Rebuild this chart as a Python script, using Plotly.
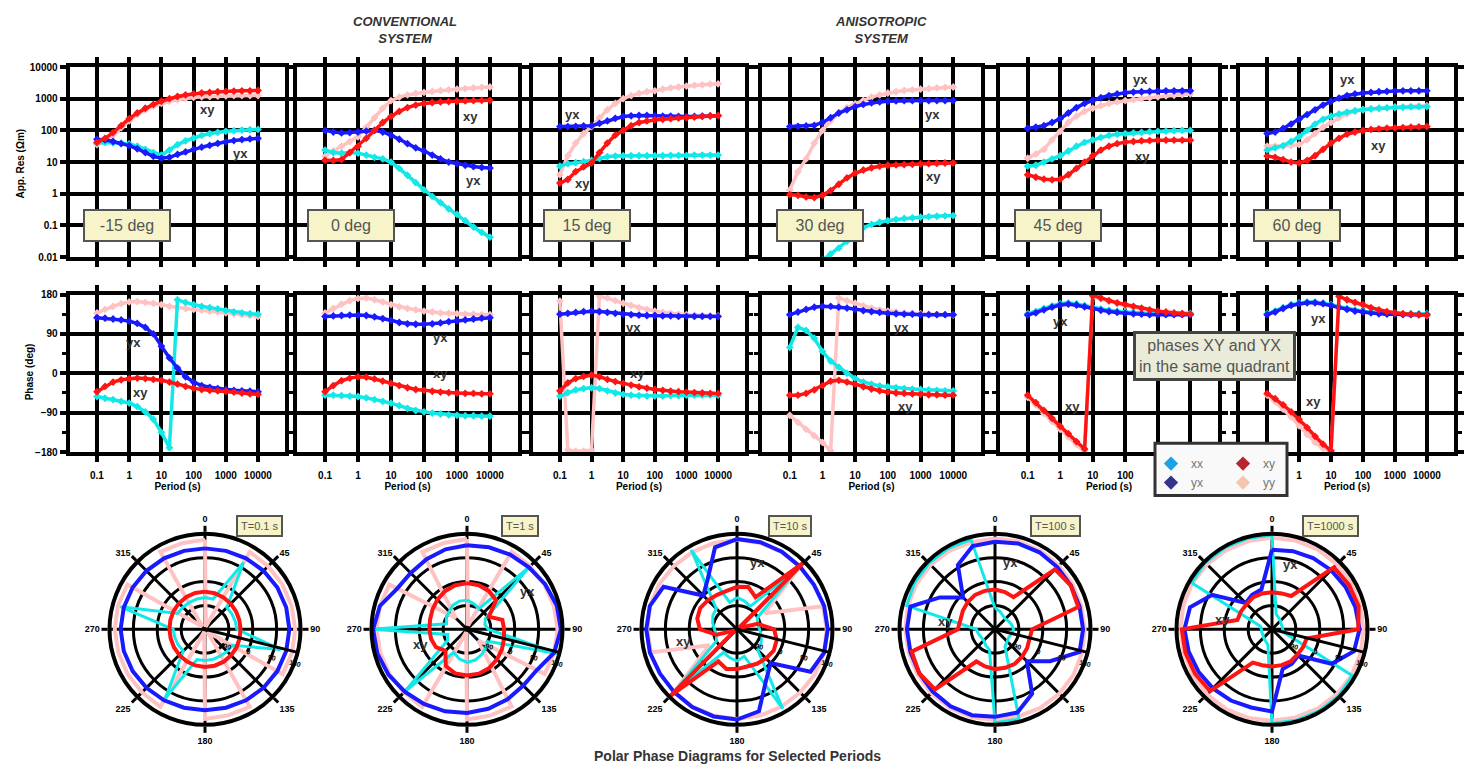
import plotly.graph_objects as go

W, H = 1469, 783

# ---------------- data ----------------
periods = [0.1, 0.178, 0.316, 0.562, 1, 1.78, 3.16, 5.62, 10, 17.8, 31.6, 56.2,
           100, 178, 316, 562, 1000, 1780, 3160, 5620, 10000]
period_ticks = [0.1, 1, 10, 100, 1000, 10000]
period_ticktext = ["0.1", "1", "10", "100", "1000", "10000"]
rot_labels = ["-15 deg", "0 deg", "15 deg", "30 deg", "45 deg", "60 deg"]
res_ticks = [-2, -1, 0, 1, 2, 3, 4]
res_ticktext = ["0.01", "0.1", "1", "10", "100", "1000", "10000"]
phase_ticks = [-180, -90, 0, 90, 180]

# log10 apparent resistivity (ohm-m)
logres_m15_xx = [1.60,1.62,1.61,1.60,1.57,1.50,1.40,1.30,1.22,1.38,1.55,1.67,1.76,1.84,1.90,1.94,1.97,1.99,2.01,2.02,2.03]
logres_m15_xy = [1.62,1.75,1.93,2.15,2.37,2.55,2.70,2.82,2.92,3.00,3.07,3.12,3.16,3.18,3.20,3.22,3.23,3.24,3.25,3.25,3.26]
logres_m15_yx = [1.72,1.70,1.65,1.58,1.52,1.42,1.30,1.18,1.12,1.15,1.24,1.32,1.40,1.47,1.53,1.59,1.64,1.68,1.71,1.73,1.75]
logres_m15_yy = [1.55,1.65,1.85,2.08,2.30,2.50,2.65,2.76,2.85,2.92,2.97,3.01,3.04,3.06,3.07,3.08,3.09,3.10,3.10,3.10,3.10]

logres_0_xx = [1.38,1.30,1.28,1.30,1.28,1.22,1.15,1.10,1.00,0.80,0.58,0.35,0.12,-0.08,-0.28,-0.48,-0.65,-0.85,-1.05,-1.22,-1.37]
logres_0_xy = [1.06,1.05,1.08,1.30,1.50,1.75,2.00,2.25,2.44,2.60,2.72,2.80,2.85,2.88,2.90,2.91,2.92,2.93,2.94,2.95,2.95]
logres_0_yx = [2.00,1.95,1.92,1.93,1.95,1.98,2.00,1.95,1.85,1.72,1.58,1.45,1.35,1.22,1.10,1.00,0.95,0.90,0.86,0.83,0.81]
logres_0_yy = [1.19,1.35,1.50,1.65,1.80,2.10,2.40,2.70,2.94,3.05,3.12,3.17,3.20,3.23,3.26,3.28,3.30,3.32,3.34,3.36,3.37]

logres_15_xx = [0.87,0.95,0.98,1.01,1.05,1.12,1.17,1.19,1.20,1.20,1.20,1.20,1.20,1.20,1.21,1.21,1.21,1.22,1.22,1.22,1.22]
logres_15_xy = [0.34,0.45,0.70,0.85,0.97,1.30,1.60,1.85,2.00,2.15,2.25,2.30,2.33,2.35,2.37,2.39,2.40,2.42,2.44,2.46,2.47]
logres_15_yx = [2.12,2.12,2.13,2.14,2.15,2.22,2.30,2.38,2.44,2.46,2.47,2.47,2.46,2.45,2.45,2.44,2.44,2.44,2.45,2.46,2.46]
logres_15_yy = [0.60,1.20,1.60,1.90,2.12,2.40,2.65,2.85,3.00,3.10,3.17,3.22,3.25,3.30,3.34,3.37,3.40,3.42,3.44,3.46,3.47]

logres_30_xx = [-3.6,-3.2,-2.8,-2.4,-2.1,-1.9,-1.72,-1.5,-1.25,-1.07,-0.97,-0.90,-0.85,-0.81,-0.78,-0.76,-0.74,-0.72,-0.71,-0.70,-0.69]
logres_30_xy = [-0.03,-0.05,-0.10,-0.12,-0.05,0.10,0.30,0.50,0.65,0.75,0.82,0.87,0.90,0.91,0.92,0.93,0.94,0.95,0.96,0.97,0.97]
logres_30_yx = [2.12,2.13,2.14,2.16,2.25,2.40,2.55,2.65,2.75,2.82,2.87,2.90,2.92,2.93,2.94,2.94,2.94,2.94,2.94,2.94,2.94]
logres_30_yy = [0.12,0.70,1.10,1.60,2.00,2.30,2.55,2.72,2.84,2.95,3.05,3.12,3.18,3.22,3.26,3.28,3.30,3.32,3.34,3.36,3.37]

logres_45_xx = [0.87,0.90,1.00,1.10,1.20,1.35,1.50,1.62,1.70,1.78,1.84,1.88,1.90,1.92,1.94,1.96,1.97,1.98,1.99,2.00,2.00]
logres_45_xy = [0.60,0.52,0.46,0.44,0.46,0.60,0.80,1.00,1.20,1.38,1.50,1.58,1.63,1.65,1.67,1.68,1.69,1.69,1.69,1.69,1.69]
logres_45_yx = [2.06,2.10,2.15,2.25,2.37,2.55,2.72,2.85,2.95,3.03,3.10,3.15,3.19,3.21,3.22,3.23,3.24,3.25,3.25,3.25,3.25]
logres_45_yy = [1.12,1.25,1.40,1.70,1.97,2.25,2.45,2.60,2.70,2.78,2.85,2.90,2.94,2.97,3.00,3.03,3.06,3.09,3.11,3.13,3.15]

logres_60_xx = [1.38,1.45,1.52,1.65,1.80,2.00,2.20,2.35,2.45,2.52,2.58,2.62,2.66,2.68,2.70,2.71,2.72,2.73,2.74,2.75,2.75]
logres_60_xy = [1.19,1.15,1.08,1.00,0.97,1.05,1.20,1.40,1.60,1.75,1.88,1.95,2.00,2.03,2.05,2.07,2.08,2.09,2.10,2.11,2.12]
logres_60_yx = [1.90,1.95,2.06,2.20,2.35,2.50,2.65,2.80,2.92,3.02,3.10,3.15,3.18,3.20,3.22,3.23,3.24,3.25,3.25,3.25,3.25]
logres_60_yy = [1.50,1.50,1.50,1.52,1.55,1.70,1.90,2.10,2.25,2.40,2.52,2.60,2.65,2.68,2.70,2.72,2.74,2.75,2.76,2.77,2.78]

# phases (deg)
phase_m15_xx = [-53,-57,-60,-64,-68,-76,-88,-105,-135,-170,168,162,157,153,150,147,143,140,138,136,135]
phase_m15_xy = [-42,-30,-20,-15,-12,-11,-12,-14,-16,-20,-25,-30,-34,-37,-39,-40,-41,-43,-45,-47,-48]
phase_m15_yx = [127,126,124,122,119,114,105,90,62,35,12,-8,-20,-28,-32,-35,-37,-39,-40,-41,-42]
phase_m15_yy = [138,146,153,159,163,164,162,160,157,153,150,148,146,144,142,140,138,136,134,132,130]

phase_0_xx = [-50,-50,-51,-52,-53,-56,-60,-64,-68,-74,-80,-85,-88,-91,-93,-95,-96,-97,-97,-98,-98]
phase_0_xy = [-42,-28,-17,-11,-8,-9,-13,-18,-23,-28,-33,-37,-39,-41,-43,-44,-45,-46,-46,-47,-47]
phase_0_yx = [130,131,132,133,133,132,129,125,121,116,113,112,112,113,115,118,120,122,124,126,127]
phase_0_yy = [138,148,158,166,171,172,168,163,157,152,148,145,142,140,138,137,136,135,135,134,134]

phase_15_xx = [-52,-44,-38,-35,-33,-35,-40,-45,-48,-50,-51,-52,-52,-52,-51,-51,-50,-50,-50,-50,-50]
phase_15_xy = [-40,-22,-12,-7,-4,-8,-14,-19,-23,-27,-31,-34,-37,-39,-41,-42,-43,-44,-45,-46,-46]
phase_15_yx = [135,137,139,141,142,141,139,137,135,134,133,132,132,131,131,130,130,130,130,130,130]
phase_15_yy = [165,-175,-178,-178,-176,176,172,166,160,155,150,146,142,139,137,135,134,133,132,131,131]

phase_30_xx = [59,105,98,80,50,28,14,0,-12,-20,-25,-29,-31,-33,-35,-36,-37,-38,-39,-40,-40]
phase_30_xy = [-50,-50,-46,-38,-28,-18,-16,-20,-25,-31,-36,-40,-43,-45,-46,-47,-48,-49,-49,-50,-50]
phase_30_yx = [134,140,146,151,153,153,151,149,146,143,141,139,137,136,135,135,134,134,134,134,134]
phase_30_yy = [-96,-112,-128,-143,-158,-177,172,166,160,154,149,145,142,140,138,137,136,135,134,134,133]

phase_45_xx = [136,141,148,154,159,161,159,155,151,147,144,142,140,139,138,137,137,137,137,137,137]
phase_45_xy = [-50,-67,-85,-103,-121,-138,-156,-173,178,172,166,161,157,153,149,145,142,140,138,136,135]
phase_45_yx = [133,138,145,151,156,158,156,152,148,144,141,139,137,136,135,134,134,134,134,134,134]
phase_45_yy = [-55,-72,-92,-110,-128,-146,-163,-178,175,170,164,159,154,150,146,143,140,138,137,136,135]

phase_60_xx = [136,142,150,157,161,163,163,161,157,152,148,144,142,140,138,137,137,136,136,136,136]
phase_60_xy = [-46,-58,-72,-88,-105,-124,-144,-162,-177,176,168,162,157,150,145,141,138,136,135,134,133]
phase_60_yx = [134,140,148,155,159,161,161,159,155,150,146,142,140,138,136,135,135,134,134,134,134]
phase_60_yy = [-50,-65,-82,-100,-120,-140,-158,-172,-179,175,168,160,154,149,144,140,137,135,134,133,132]

# polar phase diagrams: phase vs rotation angle
rot_angles = [0,15,30,45,60,75,90,105,120,135,150,165,180,195,210,225,240,255,270,285,300,315,330,345]
polar_periods = ["T=0.1 s", "T=1 s", "T=10 s", "T=100 s", "T=1000 s"]
angle_ticks = [0, 45, 90, 135, 180, 225, 270, 315]

pol_T0p1_xx = [-60,-62,110,-64,-63,-62,-60,115,-60,-62,-64,-63,-62,-62,120,-64,-63,-62,-60,150,-60,-62,-63,-62]
pol_T0p1_xy = [-38,-39,-41,-43,-45,-46,-46,-45,-43,-41,-39,-38,-38,-39,-41,-43,-45,-46,-46,-45,-43,-41,-39,-38]
pol_T0p1_yx = [125,126,129,132,135,137,138,137,135,132,129,126,125,126,129,132,135,137,138,137,135,132,129,126]
pol_T0p1_yy = [158,-170,157,156,157,158,160,160,158,-165,157,156,158,-170,157,156,157,158,160,160,158,-165,157,156]

pol_T1_xx = [-70,-80,-90,150,-100,-110,-100,175,-90,-80,-70,-60,-55,-65,-80,150,-95,-105,178,-100,-90,-85,-75,-70]
pol_T1_xy = [-6,-8,-14,-25,-85,-42,-40,-36,-28,-20,-12,-7,-6,-8,-20,-65,-45,-40,-38,-36,-30,-22,-14,-8]
pol_T1_yx = [137,140,145,150,160,170,174,160,125,120,125,130,135,140,145,152,162,170,174,160,125,120,125,132]
pol_T1_yy = [160,-165,158,156,157,159,161,160,158,-120,156,157,160,-168,158,156,157,159,161,160,158,-120,156,157]

pol_T10_xx = [-60,-70,-80,150,-90,-100,-95,-85,-75,-70,165,-75,-60,-70,-80,150,-90,-100,-95,-85,-75,-70,165,-75]
pol_T10_xy = [-20,-15,-40,175,-170,-100,-40,-25,-20,-25,-30,-35,-30,-25,-40,175,-170,-100,-40,-25,-20,-25,-30,-30]
pol_T10_yx = [160,160,158,155,155,160,162,160,140,0,40,140,160,160,158,155,155,160,162,160,140,0,40,140]
pol_T10_yy = [158,157,156,155,-60,156,158,160,159,157,156,157,158,157,156,155,-60,156,158,160,159,157,156,157]

pol_T100_xx = [-100,-110,-120,-125,-120,-115,-110,-115,-120,-115,-105,170,172,-100,-110,-120,-120,-115,-110,165,170,172,172,170]
pol_T100_xy = [-30,-35,-40,140,150,145,-40,-45,-40,-35,-30,-30,-30,-35,-40,140,150,145,-40,-45,-40,-35,-30,-30]
pol_T100_yx = [150,155,155,152,150,150,152,150,60,-10,100,145,150,155,155,152,150,150,152,150,60,-10,100,145]
pol_T100_yy = [162,163,162,160,158,157,158,160,162,163,162,160,162,163,162,160,158,157,158,160,162,163,162,160]

pol_T1000_xx = [175,-120,-130,-135,-140,-140,-140,-135,170,175,175,175,175,-120,-130,-135,-140,-140,-140,-135,170,175,175,175]
pol_T1000_xy = [-40,-40,-35,150,155,158,145,-45,-45,-45,-40,-40,-40,-40,-35,150,155,158,160,-45,-45,-45,-40,-40]
pol_T1000_yx = [120,125,130,135,140,145,150,140,80,-40,-30,-25,130,125,130,135,140,145,150,140,80,-40,-30,-25]
pol_T1000_yy = [165,166,167,166,165,164,165,166,167,166,165,164,165,166,167,166,165,164,165,166,167,166,165,164]

# ---------------- styling ----------------
COL = {"xx": "#12e8e8", "xy": "#ff1414", "yx": "#1a1aff", "yy": "#ffc2c2"}
LEG_COL = {"xx": "#1da1e6", "yx": "#34348a", "xy": "#b5272c", "yy": "#f3c6b2"}
FONT = "Liberation Sans, Arial, sans-serif"

res_sets = [
    (logres_m15_xx, logres_m15_xy, logres_m15_yx, logres_m15_yy),
    (logres_0_xx, logres_0_xy, logres_0_yx, logres_0_yy),
    (logres_15_xx, logres_15_xy, logres_15_yx, logres_15_yy),
    (logres_30_xx, logres_30_xy, logres_30_yx, logres_30_yy),
    (logres_45_xx, logres_45_xy, logres_45_yx, logres_45_yy),
    (logres_60_xx, logres_60_xy, logres_60_yx, logres_60_yy),
]
phase_sets = [
    (phase_m15_xx, phase_m15_xy, phase_m15_yx, phase_m15_yy),
    (phase_0_xx, phase_0_xy, phase_0_yx, phase_0_yy),
    (phase_15_xx, phase_15_xy, phase_15_yx, phase_15_yy),
    (phase_30_xx, phase_30_xy, phase_30_yx, phase_30_yy),
    (phase_45_xx, phase_45_xy, phase_45_yx, phase_45_yy),
    (phase_60_xx, phase_60_xy, phase_60_yx, phase_60_yy),
]
polar_sets = [
    (pol_T0p1_xx, pol_T0p1_xy, pol_T0p1_yx, pol_T0p1_yy),
    (pol_T1_xx, pol_T1_xy, pol_T1_yx, pol_T1_yy),
    (pol_T10_xx, pol_T10_xy, pol_T10_yx, pol_T10_yy),
    (pol_T100_xx, pol_T100_xy, pol_T100_yx, pol_T100_yy),
    (pol_T1000_xx, pol_T1000_xy, pol_T1000_yx, pol_T1000_yy),
]

col_left = [69.6, 297, 533, 762, 1000, 1240]
col_right = [285.4, 518, 745, 981, 1218, 1454]
row1_top, row1_bot = 62, 255
row2_top, row2_bot = 293, 453
polar_cx = [205, 467, 737, 995, 1272]
polar_cy, polar_R = 633, 97

# x tick labels hidden behind the legend box
xtick_text_row2 = [
    period_ticktext, period_ticktext, period_ticktext, period_ticktext,
    ["0.1", "1", "10", "100", "", ""],
    ["", "1", "10", "100", "1000", "10000"],
]

def px(x):
    return x / W

def py(y):
    return 1 - y / H

fig = go.Figure()
layout = dict(width=W, height=H, margin=dict(l=0, r=0, t=0, b=0),
              paper_bgcolor="white", plot_bgcolor="white",
              font=dict(family=FONT, color="black"), showlegend=True)

axis_common = dict(showgrid=True, gridcolor="black", gridwidth=4, showline=True,
                   linecolor="black", linewidth=4, mirror="ticks", ticks="outside",
                   ticklen=6, tickwidth=4, tickcolor="black", zeroline=False,
                   tickfont=dict(size=10, family=FONT, color="black", weight="bold"))

order = [("yy", 3), ("xx", 0), ("yx", 2), ("xy", 1)]

for c in range(6):
    for r in range(2):
        n = c + 1 + 6 * r
        xname = "xaxis" if n == 1 else f"xaxis{n}"
        yname = "yaxis" if n == 1 else f"yaxis{n}"
        xref = "x" if n == 1 else f"x{n}"
        yref = "y" if n == 1 else f"y{n}"
        top, bot = (row1_top, row1_bot) if r == 0 else (row2_top, row2_bot)
        xa = dict(axis_common, type="log", range=[-1.85, 4.85], domain=[px(col_left[c]), px(col_right[c])],
                  anchor=yref, tickvals=period_ticks,
                  ticktext=(xtick_text_row2[c] if r == 1 else period_ticktext),
                  showticklabels=(r == 1))
        if r == 1:
            xa["ticklabelstandoff"] = 5
            xa["title"] = dict(text="Period (s)", font=dict(size=10, family=FONT, color="black", weight="bold"), standoff=1)
        ya = dict(axis_common, domain=[py(bot), py(top)], anchor=xref, showticklabels=(c == 0))
        if r == 0:
            ya.update(range=[-2, 4], tickvals=res_ticks, ticktext=res_ticktext)
            data = res_sets[c]
        else:
            ya.update(range=[-180, 180], tickvals=phase_ticks,
                      minor=dict(dtick=45, tick0=0, ticks="outside", ticklen=4, tickwidth=3, tickcolor="black", showgrid=False))
            data = phase_sets[c]
        layout[xname] = xa
        layout[yname] = ya
        for comp, idx in order:
            fig.add_trace(go.Scatter(x=periods, y=data[idx], xaxis=xref, yaxis=yref,
                                     mode="lines+markers", showlegend=False,
                                     line=dict(color=COL[comp], width=3.5),
                                     marker=dict(color=COL[comp], size=6, symbol="diamond")))

# polar subplots
for k in range(5):
    name = "polar" if k == 0 else f"polar{k+1}"
    cx = polar_cx[k]
    layout[name] = dict(
        domain=dict(x=[px(cx - polar_R), px(cx + polar_R)], y=[py(polar_cy + polar_R), py(polar_cy - polar_R)]),
        bgcolor="white",
        angularaxis=dict(direction="clockwise", rotation=90, tickmode="array", tickvals=angle_ticks,
                         ticktext=[str(a) for a in angle_ticks], showgrid=True, gridcolor="black", gridwidth=3,
                         showline=True, linecolor="black", linewidth=4, ticks="outside", ticklen=6,
                         tickwidth=3, tickcolor="black",
                         tickfont=dict(size=9, family=FONT, color="black", weight="bold")),
        radialaxis=dict(range=[-180, 180], tickvals=[-90, 0, 90, 180], showgrid=True, gridcolor="black",
                        gridwidth=3, showline=True, linecolor="black", linewidth=3, angle=-14,
                        ticks="outside", ticklen=4, tickwidth=2, tickcolor="black",
                        tickfont=dict(size=7, family=FONT, color="black", weight="bold")),
    )
    data = polar_sets[k]
    for comp, idx in order:
        rr = list(data[idx]) + [data[idx][0]]
        th = list(rot_angles) + [360]
        fig.add_trace(go.Scatterpolar(r=rr, theta=th, subplot=name, mode="lines", showlegend=False,
                                      line=dict(color=COL[comp], width=4 if comp != "xx" else 3)))

# legend-only entries
for comp, leg in [("xx", "legend"), ("yx", "legend"), ("xy", "legend2"), ("yy", "legend2")]:
    fig.add_trace(go.Scatter(x=[None], y=[None], xaxis="x", yaxis="y", mode="markers", name=comp,
                             legend=leg, marker=dict(color=LEG_COL[comp], size=11, symbol="diamond")))

leg_common = dict(bgcolor="rgba(0,0,0,0)", borderwidth=0, xanchor="left", yanchor="top",
                  font=dict(size=12, family=FONT, color="#777"), itemwidth=30, tracegroupgap=0)
layout["legend"] = dict(leg_common, x=px(1151), y=py(450))
layout["legend2"] = dict(leg_common, x=px(1223), y=py(450))

shapes = [dict(type="rect", xref="paper", yref="paper", x0=px(1155), x1=px(1287), y0=py(497), y1=py(444),
               line=dict(color="#333", width=3), fillcolor="#f9f9f9", layer="above")]
layout["shapes"] = shapes

def A(x, y, text, **kw):
    d = dict(x=px(x), y=py(y), xref="paper", yref="paper", text=text, showarrow=False,
             xanchor="center", yanchor="middle")
    d.update(kw)
    return d

ann = []
box_cx = [127, 351, 587, 820, 1058, 1297]
for c in range(6):
    ann.append(A(box_cx[c], 223, rot_labels[c], font=dict(size=16, family=FONT, color="#555"),
                 bgcolor="#f6f4c8", bordercolor="#555", borderwidth=2, borderpad=3, width=78, height=23))

labels = [
    ("xy", 207, 105), ("yx", 240, 150), ("xy", 470, 112), ("yx", 473, 177),
    ("yx", 572, 110), ("xy", 582, 180), ("yx", 932, 110), ("xy", 933, 173),
    ("yx", 1140, 75), ("xy", 1142, 153), ("yx", 1347, 75), ("xy", 1378, 142),
    ("yx", 133, 342), ("xy", 140, 393), ("yx", 440, 337), ("xy", 440, 373),
    ("yx", 633, 327), ("xy", 637, 373), ("yx", 902, 327), ("xy", 905, 407),
    ("yx", 1060, 320), ("xy", 1072, 407), ("yx", 1318, 317), ("xy", 1313, 402),
    ("yx", 527, 595), ("xy", 420, 648), ("yx", 757, 565), ("xy", 683, 645),
    ("yx", 1010, 565), ("xy", 945, 625), ("yx", 1290, 567), ("xy", 1222, 623),
]
for t, x, y in labels:
    ann.append(A(x, y, t, font=dict(size=13, family=FONT, color="#333", weight="bold")))

pt_cx = [259, 520, 790, 1055, 1330]
for k in range(5):
    ann.append(A(pt_cx[k], 528, polar_periods[k], font=dict(size=11, family=FONT, color="#555"),
                 bgcolor="#f6f4c8", bordercolor="#555", borderwidth=2, borderpad=3))

ann.append(A(1214, 355, "phases XY and YX<br>in the same quadrant",
             font=dict(size=16, family=FONT, color="#555"), bgcolor="#eaecd9",
             bordercolor="#444", borderwidth=3, borderpad=3))

ann.append(A(737, 762, "Polar Phase Diagrams for Selected Periods",
             font=dict(size=14, family=FONT, color="#333", weight="bold")))

ann.append(A(405, 24, "<i>CONVENTIONAL<br>SYSTEM</i>",
             font=dict(size=13, family=FONT, color="#333", weight="bold")))
ann.append(A(881, 24, "<i>ANISOTROPIC<br>SYSTEM</i>",
             font=dict(size=13, family=FONT, color="#333", weight="bold")))

ann.append(A(21, 160, "App. Res (Ωm)", textangle=-90,
             font=dict(size=10, family=FONT, color="black", weight="bold")))
ann.append(A(29, 372, "Phase (deg)", textangle=-90,
             font=dict(size=10, family=FONT, color="black", weight="bold")))

layout["annotations"] = ann
fig.update_layout(**layout)

fig.write_html("out.html", config={"displayModeBar": False},
               post_script="document.body.style.margin='0';")
